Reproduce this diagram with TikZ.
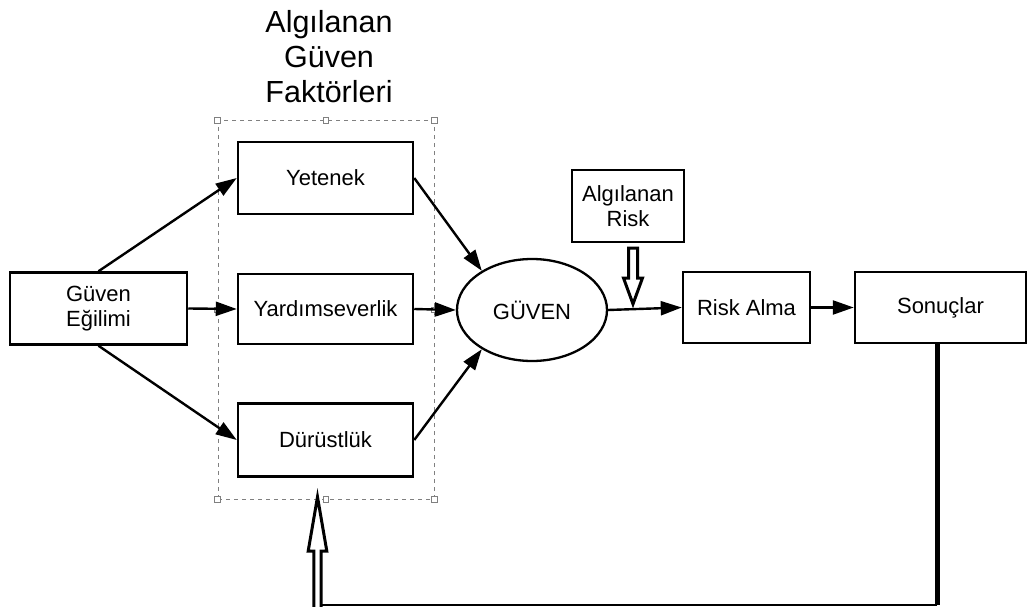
\documentclass[tikz,border=0pt]{standalone}
\usepackage{fontspec}
\setmainfont{Liberation Sans}
\usetikzlibrary{arrows.meta,shapes.geometric}
\begin{document}
\begin{tikzpicture}[x=1pt,y=-1pt,
  box/.style={draw,line width=2.5pt,fill=white,inner sep=0pt,align=center,
    font=\fontsize{22}{25}\selectfont},
  conn/.style={line width=2.4pt,-{Triangle[length=21pt,width=14pt]}},
  handle/.style={draw=gray,fill=white,line width=0.8pt,minimum size=5.5pt,inner sep=0pt},
  frame/.style={draw=gray,line width=1pt,dash pattern=on 4pt off 4pt,
    minimum width=216pt,minimum height=378pt,inner sep=0pt},
  hollow/.style={draw,line width=3pt,fill=white,line join=miter}
]
\useasboundingbox (0,0) rectangle (1029,607);

% selection frame around the trust factors
\node[frame] (grp) at (326,310) {};
\foreach \a in {north west,north,north east,east,south east,south,south west,west}
  \node[handle] (h-\a) at (grp.\a) {};

% title
\node[align=center,font=\fontsize{30.5}{35}\selectfont] (title) at (329,57)
  {Algılanan\\Güven\\Faktörleri};

% boxes
\node[box,minimum width=177pt,minimum height=72pt] (egilim) at (98.5,308.5) {Güven\\Eğilimi};
\node[box,minimum width=175pt,minimum height=72pt] (yetenek) at (325.5,178) {Yetenek};
\node[box,minimum width=175pt,minimum height=70pt] (yardim) at (325.5,309) {Yardımseverlik};
\node[box,minimum width=175pt,minimum height=73pt] (durust) at (325.5,440) {Dürüstlük};
\node[draw,ellipse,line width=2.3pt,inner sep=0pt,minimum width=150pt,minimum height=102pt,
  font=\fontsize{22}{25}\selectfont] (guven) at (532,310) {GÜVEN};
\node[box,minimum width=112pt,minimum height=72pt] (risk) at (628,206) {Algılanan\\Risk};
\node[box,minimum width=127pt,minimum height=71pt] (alma) at (746.5,307.5) {Risk Alma};
\node[box,minimum width=171pt,minimum height=71pt] (sonuc) at (940.5,307.5) {Sonuçlar};

% arrows into the trust factors
\draw[conn] (egilim.north) -- (yetenek.west);
\draw[conn] (egilim.east) -- (yardim.west);
\draw[conn] (egilim.south) -- (durust.west);

% arrows into trust
\draw[conn] (yetenek.east) -- (guven.142);
\draw[conn] (yardim.east) -- (guven.west);
\draw[conn] (durust.east) -- (guven.218);

% trust -> risk taking -> outcomes
\draw[conn] (guven.east) -- (alma.west);
\draw[conn] (alma.east) -- (sonuc.west);

% perceived risk acting on the trust line
\coordinate (riskin) at (633,304);
\draw[hollow] (riskin) -- ++(9.5,-26) -- ++(-5,0) -- ++(0,-30) -- ++(-9,0)
  -- ++(0,30) -- ++(-5,0) -- cycle;

% feedback from outcomes to the trust factors
\coordinate (fbtop) at ([xshift=-3.5pt]sonuc.south);
\coordinate (fbcorner) at (937,605);
\coordinate (fbend) at (317.5,605);
\draw[line width=5pt] (fbtop) -- (fbcorner);
\draw[line width=2.4pt] (fbcorner) -- (fbend);
\coordinate (fbtip) at (317.5,497);
\draw[hollow] (fbtip) -- ++(9.3,54) -- ++(-5.6,0) -- ++(0,65) -- ++(-7.4,0)
  -- ++(0,-65) -- ++(-5.6,0) -- cycle;
\end{tikzpicture}
\end{document}
